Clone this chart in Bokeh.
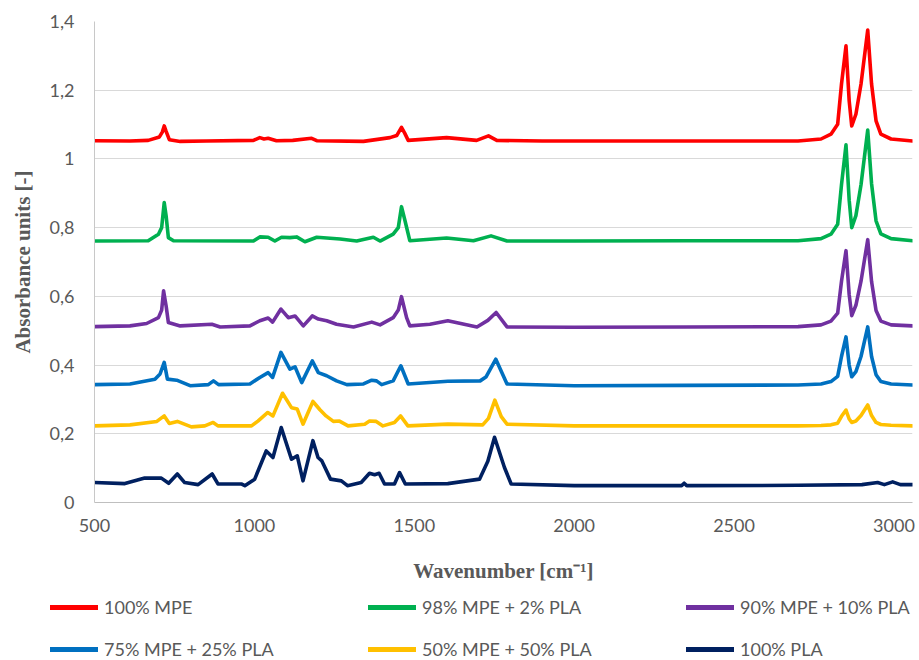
from bokeh.plotting import figure
from bokeh.layouts import column
from bokeh.models import Range1d, FixedTicker, CustomJSTickFormatter, Legend, LegendItem
from bokeh.embed import file_html
from bokeh.resources import INLINE

# ---------------- data ----------------
labels = ["100% MPE", "98% MPE + 2% PLA", "90% MPE + 10% PLA",
          "75% MPE + 25% PLA", "50% MPE + 50% PLA", "100% PLA"]
colors = ["#FF0000", "#00B050", "#7030A0", "#0070C0", "#FFC000", "#002060"]

x_ticks = [500, 1000, 1500, 2000, 2500, 3000]
y_ticks = [0, 0.2, 0.4, 0.6, 0.8, 1.0, 1.2, 1.4]

mpe100_x = [500, 611, 668, 703, 712, 718, 724, 734, 768, 850,
            997, 1017, 1030, 1043, 1069, 1120, 1179, 1195, 1341, 1424,
            1445, 1460, 1470, 1481, 1601, 1695, 1732, 1758, 1900, 2200,
            2500, 2700, 2772, 2803, 2824, 2836, 2850, 2860, 2868, 2881,
            2897, 2918, 2930, 2944, 2959, 2991, 3058]
mpe100_y = [1.053, 1.052, 1.054, 1.064, 1.078, 1.096, 1.080, 1.056, 1.051, 1.052,
            1.054, 1.062, 1.058, 1.060, 1.053, 1.054, 1.060, 1.053, 1.051, 1.062,
            1.068, 1.092, 1.075, 1.054, 1.062, 1.054, 1.067, 1.054, 1.052, 1.052,
            1.052, 1.052, 1.058, 1.072, 1.101, 1.218, 1.329, 1.169, 1.096, 1.130,
            1.218, 1.375, 1.218, 1.111, 1.072, 1.058, 1.052]

mpe98_x = [500, 668, 700, 710, 718, 724, 731, 747, 997, 1017,
           1043, 1064, 1085, 1111, 1132, 1158, 1195, 1268, 1320, 1372,
           1393, 1434, 1450, 1460, 1471, 1486, 1601, 1685, 1740, 1790,
           2000, 2350, 2700, 2772, 2803, 2824, 2836, 2850, 2860, 2868,
           2881, 2897, 2918, 2930, 2944, 2959, 2991, 3058]
mpe98_y = [0.761, 0.762, 0.781, 0.800, 0.873, 0.834, 0.771, 0.762, 0.761, 0.773,
           0.772, 0.761, 0.772, 0.771, 0.773, 0.759, 0.772, 0.767, 0.761, 0.772,
           0.761, 0.781, 0.800, 0.861, 0.820, 0.762, 0.770, 0.762, 0.776, 0.761,
           0.761, 0.762, 0.762, 0.768, 0.781, 0.810, 0.925, 1.041, 0.880, 0.800,
           0.835, 0.925, 1.084, 0.928, 0.820, 0.782, 0.768, 0.762]

mpe90_x = [500, 611, 663, 700, 710, 716, 724, 731, 768, 867,
           893, 986, 1017, 1043, 1057, 1083, 1106, 1127, 1153, 1181,
           1200, 1226, 1257, 1310, 1367, 1393, 1434, 1450, 1460, 1476,
           1486, 1549, 1605, 1696, 1730, 1756, 1790, 2000, 2350, 2700,
           2772, 2803, 2824, 2836, 2850, 2860, 2868, 2881, 2897, 2918,
           2930, 2944, 2959, 2991, 3058]
mpe90_y = [0.512, 0.514, 0.521, 0.538, 0.560, 0.616, 0.572, 0.524, 0.514, 0.519,
           0.511, 0.514, 0.529, 0.537, 0.525, 0.563, 0.538, 0.543, 0.514, 0.543,
           0.534, 0.529, 0.519, 0.511, 0.525, 0.517, 0.538, 0.560, 0.599, 0.538,
           0.514, 0.519, 0.529, 0.511, 0.530, 0.553, 0.511, 0.510, 0.511, 0.512,
           0.517, 0.528, 0.551, 0.644, 0.733, 0.605, 0.544, 0.574, 0.644, 0.765,
           0.643, 0.559, 0.528, 0.517, 0.514]

mpe75_x = [500, 611, 689, 705, 718, 728, 757, 799, 856, 872,
           888, 986, 1017, 1043, 1057, 1083, 1111, 1127, 1148, 1181,
           1200, 1226, 1257, 1289, 1341, 1367, 1382, 1398, 1434, 1458,
           1481, 1605, 1706, 1724, 1755, 1790, 2000, 2350, 2700,
           2772, 2803, 2824, 2836, 2850, 2860, 2868, 2881, 2897, 2918,
           2930, 2944, 2959, 2991, 3058]
mpe75_y = [0.343, 0.345, 0.359, 0.374, 0.408, 0.359, 0.356, 0.340, 0.343, 0.354,
           0.343, 0.345, 0.364, 0.378, 0.364, 0.437, 0.388, 0.395, 0.349, 0.412,
           0.378, 0.369, 0.354, 0.343, 0.345, 0.356, 0.354, 0.343, 0.354, 0.398,
           0.345, 0.353, 0.354, 0.365, 0.417, 0.345, 0.340, 0.341, 0.342,
           0.345, 0.352, 0.367, 0.425, 0.482, 0.400, 0.366, 0.381, 0.425, 0.511,
           0.425, 0.372, 0.352, 0.345, 0.342]

mpe50_x = [500, 611, 695, 718, 734, 759, 803, 845, 871, 886,
           991, 1011, 1042, 1058, 1088, 1116, 1134, 1152, 1183, 1205,
           1224, 1247, 1266, 1293, 1345, 1360, 1381, 1402, 1438, 1457,
           1480, 1605, 1714, 1732, 1752, 1772, 1790, 2000, 2350, 2700,
           2772, 2803, 2824, 2836, 2850, 2860, 2868, 2881, 2897, 2918,
           2930, 2944, 2959, 2991, 3058]
mpe50_y = [0.223, 0.226, 0.236, 0.252, 0.230, 0.236, 0.220, 0.223, 0.233, 0.223,
           0.223, 0.237, 0.262, 0.252, 0.318, 0.276, 0.272, 0.228, 0.294, 0.270,
           0.252, 0.236, 0.237, 0.223, 0.228, 0.237, 0.236, 0.223, 0.233, 0.252,
           0.223, 0.228, 0.226, 0.245, 0.298, 0.250, 0.228, 0.223, 0.223, 0.223,
           0.224, 0.226, 0.231, 0.251, 0.269, 0.243, 0.233, 0.237, 0.253, 0.284,
           0.253, 0.233, 0.227, 0.225, 0.223]

pla100_x = [500, 595, 657, 709, 732, 759, 782, 824, 868, 886,
            959, 970, 1001, 1037, 1058, 1084, 1116, 1134, 1152, 1183,
            1199, 1211, 1238, 1272, 1291, 1334, 1360, 1376, 1390, 1407,
            1438, 1454, 1472, 1605, 1704, 1730, 1751, 1782, 1803, 2000,
            2336, 2344, 2352, 2700, 2900, 2949, 2970, 2996, 3020, 3058]
pla100_y = [0.058, 0.055, 0.071, 0.071, 0.056, 0.083, 0.058, 0.052, 0.083, 0.054,
            0.054, 0.049, 0.068, 0.150, 0.131, 0.218, 0.126, 0.136, 0.063, 0.180,
            0.131, 0.121, 0.068, 0.063, 0.049, 0.058, 0.085, 0.081, 0.085, 0.054,
            0.054, 0.087, 0.054, 0.055, 0.068, 0.120, 0.190, 0.102, 0.054, 0.049,
            0.049, 0.056, 0.049, 0.050, 0.052, 0.058, 0.052, 0.060, 0.052, 0.052]

series_x = [mpe100_x, mpe98_x, mpe90_x, mpe75_x, mpe50_x, pla100_x]
series_y = [mpe100_y, mpe98_y, mpe90_y, mpe75_y, mpe50_y, pla100_y]

TICK_FONT = "Lato"
GREY = "#595959"

# ---------------- main chart ----------------
p = figure(width=919, height=590, output_backend="svg", toolbar_location=None,
           x_range=Range1d(500, 3058), y_range=Range1d(0, 1.4),
           min_border_left=94, min_border_right=7, min_border_top=21,
           min_border_bottom=88)
p.outline_line_color = None
p.background_fill_color = "white"
p.border_fill_color = "white"

for xs, ys, col in zip(series_x, series_y, colors):
    p.line(xs, ys, line_color=col, line_width=3.6,
           line_join="round", line_cap="round")

p.xgrid.visible = False
p.ygrid.grid_line_color = "#d9d9d9"
p.ygrid.grid_line_width = 1

p.yaxis.ticker = FixedTicker(ticks=y_ticks)
p.yaxis.formatter = CustomJSTickFormatter(
    code="return tick.toFixed(1).replace('.', ',').replace(/,0$/, '');")
p.xaxis.ticker = FixedTicker(ticks=x_ticks)

for ax in (p.xaxis[0], p.yaxis[0]):
    ax.major_tick_line_color = None
    ax.minor_tick_line_color = None
    ax.major_tick_out = 0
    ax.major_label_text_font = TICK_FONT
    ax.major_label_text_font_size = "18px"
    ax.major_label_text_color = GREY
    ax.axis_label_text_font = "Liberation Serif"
    ax.axis_label_text_font_style = "bold"
    ax.axis_label_text_font_size = "21px"
    ax.axis_label_text_color = GREY

p.xaxis.axis_line_color = "#bfbfbf"
p.yaxis.axis_line_color = "#c8c8c8"
p.xaxis.major_label_standoff = 16
p.yaxis.major_label_standoff = 20
p.xaxis.axis_label = "Wavenumber [cm\u207b\u00b9]"
p.yaxis.axis_label = "Absorbance units [-]"
p.xaxis.axis_label_standoff = 24
p.yaxis.axis_label_standoff = 12

# ---------------- legend strip (same series, drawn out of its view) ----------------
q = figure(width=919, height=70, output_backend="svg", toolbar_location=None,
           x_range=Range1d(0, 1), y_range=Range1d(0, 1),
           x_axis_type=None, y_axis_type=None,
           min_border_left=0, min_border_right=0, min_border_top=0,
           min_border_bottom=0)
q.outline_line_color = None
q.xgrid.visible = False
q.ygrid.visible = False
q.background_fill_color = "white"
q.border_fill_color = "white"
legend_x = -44
try:
    q.frame_align = False
    legend_x = 50
except Exception:
    pass

items = []
for xs, ys, lab, col in zip(series_x, series_y, labels, colors):
    r = q.line(xs, ys, line_color=col, line_width=5, line_cap="round")
    items.append(LegendItem(label=lab, renderers=[r]))

leg = Legend(items=items, location=(legend_x, 0), orientation="horizontal", ncols=3,
             glyph_width=48, glyph_height=20, label_height=20, label_width=244,
             label_standoff=6, spacing=20, padding=0, margin=0,
             border_line_color=None, background_fill_alpha=0,
             label_text_font=TICK_FONT, label_text_font_size="18px",
             label_text_color=GREY)
q.add_layout(leg, "center")

open("out.html", "w").write(file_html(column(p, q, spacing=0), INLINE))
